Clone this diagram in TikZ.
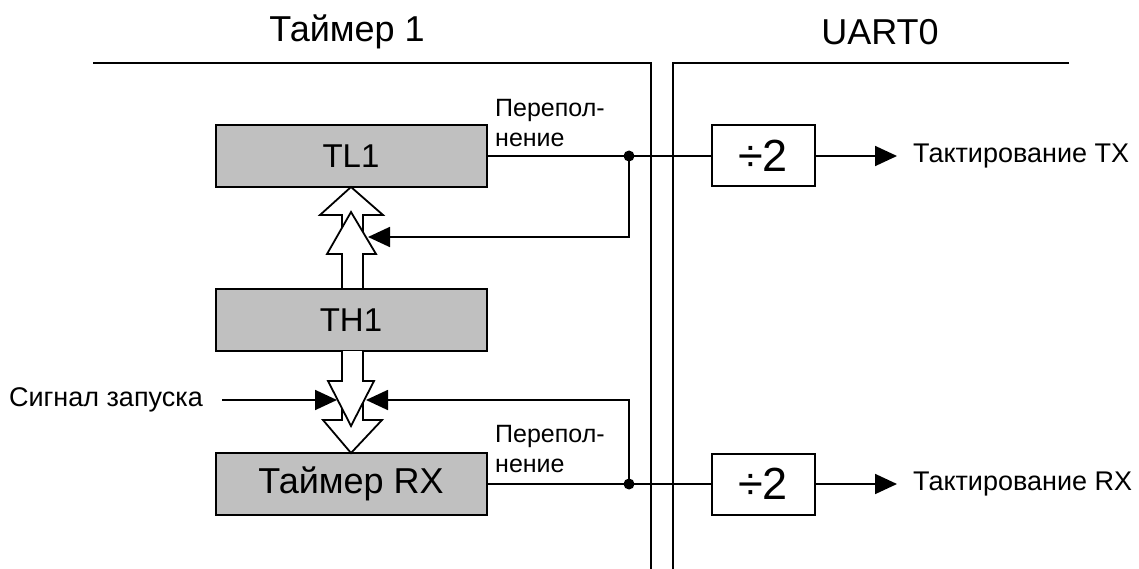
\documentclass[tikz,border=0pt]{standalone}
\usepackage{fontspec}
\setmainfont{Liberation Sans}
\usepackage{tikz}
\usetikzlibrary{arrows.meta,positioning}
\definecolor{regfill}{HTML}{C0C0C0}
\tikzset{
  regbox/.style={draw, line width=2pt, fill=regfill, minimum width=271pt, minimum height=62pt, inner sep=0pt, font=\fontsize{33}{38}\selectfont},
  divbox/.style={draw, line width=2pt, fill=white, minimum width=103pt, minimum height=61pt, inner sep=0pt, font=\fontsize{45}{50}\selectfont},
  sig/.style={line width=1.8pt},
  sigarrow/.style={sig, -{Triangle[length=22pt,width=20pt]}},
  hollow/.style={draw, line width=1.8pt, fill=white, line join=miter},
  tapdot/.style={circle, fill, inner sep=0pt, minimum size=11pt},
  headtext/.style={font=\fontsize{36}{40}\selectfont, inner sep=0pt},
  smalltext/.style={font=\fontsize{25}{30}\selectfont, inner sep=0pt, align=left},
  sidetext/.style={font=\fontsize{27}{30}\selectfont, inner sep=0pt}
}

\begin{document}
\begin{tikzpicture}[x=1pt,y=-1pt,node distance=100pt and 223pt]
    \useasboundingbox (0,0) rectangle (1139,569);

    % headers and border between the two units
    \node[headtext] (hdtimer) at (347,32) {Таймер 1};
    \node[headtext] (hduart) at (880,32) {UART0};
    \draw[sig] (93,63) -- (651,63) -- (651,569);
    \draw[sig] (1069,63) -- (673,63) -- (673,569);

    % registers
    \node[regbox] (tlone) at (351,156) {TL1};
    \node[regbox, below=of tlone] (thone) {TH1};
    \node[regbox, below=of thone, font=\fontsize{36}{40}\selectfont] (rxtimer) {Таймер RX};

    % dividers
    \node[divbox, right=of tlone] (divtx) {÷2};
    \node[divbox, right=of rxtimer] (divrx) {÷2};

    % reload paths (hollow arrows)
    \draw[hollow] (351,187) -- (383,215) -- (363,215) -- (363,262) -- (342,262) -- (342,215) -- (320,215) -- cycle;
    \draw[hollow] (351,212) -- (376,254) -- (363,254) -- (363,289) -- (342,289) -- (342,254) -- (327,254) -- cycle;
    \draw[hollow] (342,381) -- (342,420) -- (323,420) -- (351,453) -- (382,420) -- (363,420) -- (363,381);
    \draw[hollow] (342,351) -- (342,381) -- (328,381) -- (351,426) -- (374,381) -- (363,381) -- (363,351);

    % overflow taps
    \node[tapdot] (taptx) at (629,156) {};
    \node[tapdot] (taprx) at (629,484) {};
    \node[smalltext, anchor=west] (ovftx) at (495,123) {Перепол-\\нение};
    \node[smalltext, anchor=west] (ovfrx) at (495,449) {Перепол-\\нение};

    \draw[sig] (tlone.east) -- (divtx.west);
    \draw[sig] (rxtimer.east) -- (divrx.west);

    % clock outputs
    \node[sidetext, anchor=west] (clktx) at (913,156) {Тактирование TX};
    \node[sidetext, anchor=west] (clkrx) at (913,484) {Тактирование RX};
    \draw[sigarrow] (divtx.east) -- ([xshift=-16pt]clktx.west);
    \draw[sigarrow] (divrx.east) -- ([xshift=-16pt]clkrx.west);

    % feedback and start signal
    \coordinate (fbtip) at (368,237);
    \draw[sigarrow] (taptx.center) |- (fbtip);
    \node[sidetext, anchor=east] (startlbl) at (203,400) {Сигнал запуска};
    \coordinate (starttip) at (337,400);
    \draw[sigarrow] ([xshift=19pt]startlbl.east) -- (starttip);
    \coordinate (reloadtip) at (366,400);
    \draw[sigarrow] (taprx.center) |- (reloadtip);
\end{tikzpicture}
\end{document}
